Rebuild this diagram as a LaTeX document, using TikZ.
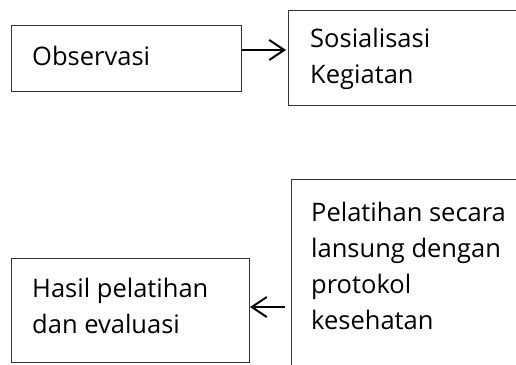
\documentclass[tikz,border=0pt]{standalone}
\usepackage{fontspec}
\setmainfont{Open Sans}
\usetikzlibrary{arrows.meta}
\begin{document}
\begin{tikzpicture}[x=1pt,y=-1pt,
  box/.style={draw=black!80,line width=1pt,inner sep=0pt,anchor=north west},
  txt/.style={anchor=base west,inner sep=0pt,font=\fontsize{25.5}{34.5}\selectfont},
  conn/.style={line width=2pt,-{Straight Barb[length=15pt,width=20pt,line width=2pt]}}]
\useasboundingbox (0,0) rectangle (516,364);
\clip (0,0) rectangle (516,364);
\node[box,minimum width=230pt,minimum height=66pt] (obs) at (11,25) {};
\node[box,minimum width=240pt,minimum height=95pt] (sos) at (288,10) {};
\node[box,minimum width=240pt,minimum height=200pt] (pel) at (291,179) {};
\node[box,minimum width=238pt,minimum height=104pt] (has) at (11,258) {};
\node[txt] (tobs) at (32,65) {Observasi};
\node[txt] (tsos1) at (310,47) {Sosialisasi};
\node[txt] (tsos2) at (310,83) {Kegiatan};
\node[txt] (tpel1) at (311,221) {Pelatihan secara};
\node[txt] (tpel2) at (311,257) {lansung dengan};
\node[txt] (tpel3) at (311,293) {protokol};
\node[txt] (tpel4) at (311,329) {kesehatan};
\node[txt] (thas1) at (32,297) {Hasil pelatihan};
\node[txt] (thas2) at (32,333) {dan evaluasi};
\draw[conn] (obs.east|-0,50) -- ([xshift=-2pt]sos.west|-0,50);
\draw[conn] ([xshift=-6pt]pel.west|-0,307) -- (has.east|-0,307);
\end{tikzpicture}
\end{document}
